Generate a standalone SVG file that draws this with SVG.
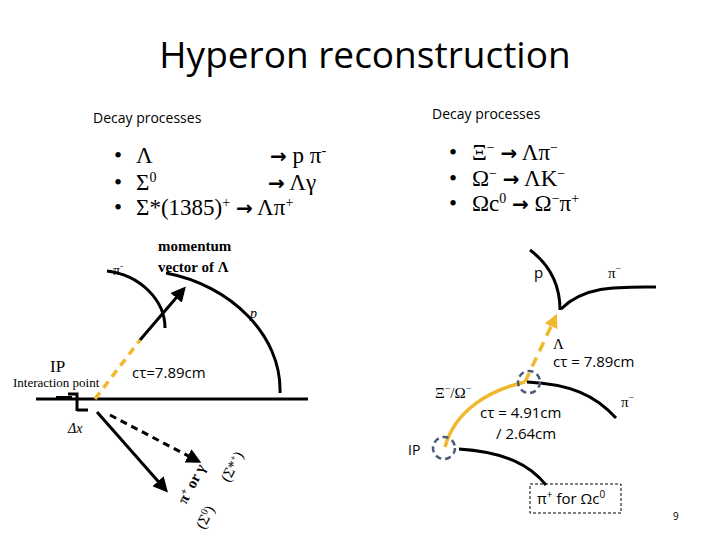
<svg xmlns="http://www.w3.org/2000/svg" width="720" height="540" viewBox="0 0 720 540">
<style>
.s{font-family:"Liberation Serif",serif;fill:#000}
.c{font-family:"Open Sans","Liberation Sans",sans-serif;fill:#000}
.t{fill:none;stroke:#000;stroke-width:3}
.y{fill:none;stroke:#f0b92d;stroke-width:3.5}
.o{fill:none;stroke:#4a5a78;stroke-width:2.5;stroke-dasharray:6 4}
.ar{font-family:"DejaVu Sans",sans-serif;font-weight:bold}
</style>
<defs>
<marker id="a" markerWidth="5" markerHeight="5" refX="3" refY="2.5" orient="auto"><path d="M0,0L5,2.5L0,5z" fill="#000"/></marker>
<marker id="ya" markerWidth="4" markerHeight="4" refX="2" refY="2" orient="auto"><path d="M0,0L4,2L0,4z" fill="#f0b92d"/></marker>
</defs>
<rect width="720" height="540" fill="#fff"/>
<text x="365" y="68" text-anchor="middle" class="c" font-size="37">Hyperon reconstruction</text>
<g id="left-list">
<text x="93" y="123" class="c" font-size="14">Decay processes</text>
<text x="114" y="163" class="s" font-size="23">•</text>
<text x="114" y="190" class="s" font-size="23">•</text>
<text x="114" y="215" class="s" font-size="23">•</text>
<text x="136" y="163" class="s" font-size="23">Λ</text>
<text x="270" y="163" class="s" font-size="23"><tspan class="ar" font-size="20">→</tspan> p π<tspan dy="-8" font-size="14">-</tspan></text>
<text x="136" y="190" class="s" font-size="23">Σ<tspan dy="-8" font-size="14">0</tspan></text>
<text x="268" y="190" class="s" font-size="23"><tspan class="ar" font-size="20">→</tspan> Λγ</text>
<text x="136" y="215" class="s" font-size="23">Σ*(1385)<tspan dy="-8" font-size="14">+</tspan><tspan dy="8"> </tspan><tspan class="ar" font-size="20">→</tspan> Λπ<tspan dy="-8" font-size="14">+</tspan></text>
</g>
<g id="right-list">
<text x="432" y="119" class="c" font-size="14">Decay processes</text>
<text x="449" y="160" class="s" font-size="23">•</text>
<text x="449" y="186" class="s" font-size="23">•</text>
<text x="449" y="211" class="s" font-size="23">•</text>
<text x="472" y="160" class="s" font-size="23">Ξ<tspan dy="-8" font-size="14">−</tspan><tspan dy="8">   </tspan><tspan class="ar" font-size="20">→</tspan> Λπ<tspan dy="-8" font-size="14">−</tspan></text>
<text x="472" y="186" class="s" font-size="23">Ω<tspan dy="-8" font-size="14">−</tspan><tspan dy="8">  </tspan><tspan class="ar" font-size="20">→</tspan> ΛK<tspan dy="-8" font-size="14">−</tspan></text>
<text x="472" y="211" class="s" font-size="23">Ωc<tspan dy="-8" font-size="14">0</tspan><tspan dy="8"> </tspan><tspan class="ar" font-size="20">→</tspan> Ω<tspan dy="-8" font-size="14">−</tspan><tspan dy="8">π</tspan><tspan dy="-8" font-size="14">+</tspan></text>
</g>
<g id="connectors">
<line x1="36" y1="399" x2="308" y2="399" class="t"/>
<line x1="56" y1="398" x2="72" y2="398" stroke="#000" stroke-width="4"/>
<path d="M68,394H77V411M77,410H88" class="t" stroke-width="2.5"/>
<path d="M166,273 C230,285 282,335 280,393" class="t"/>
<path d="M107,271 C140,275 165,300 165,328" class="t"/>
<line x1="95" y1="399" x2="140" y2="340" class="y" stroke-dasharray="8 6"/>
<line x1="140" y1="340" x2="182" y2="291" class="t" marker-end="url(#a)"/>
<line x1="97" y1="412" x2="164" y2="488" class="t" stroke-width="3.5" marker-end="url(#a)"/>
<line x1="110" y1="415" x2="196" y2="460" class="t" stroke-width="2" stroke-dasharray="7 5" marker-end="url(#a)"/>
<path d="M530,250 C550,265 560,285 560,310" class="t"/>
<path d="M561,309 C585,285 620,287 656,287" class="t"/>
<line x1="525" y1="382" x2="554" y2="320" class="y" stroke-dasharray="10 7" marker-end="url(#ya)"/>
<path d="M445,447 C455,410 490,390 525,382" class="y"/>
<path d="M527,382 C570,384 595,395 616,418" class="t"/>
<path d="M459,449 C505,452 530,465 546,485" class="t"/>
</g>
<g id="vertices">
<circle cx="529" cy="382" r="11" class="o"/>
<circle cx="444" cy="448" r="11" class="o"/>
</g>
<g id="labels">
<text x="113" y="275" class="s" font-size="14">π<tspan dy="-6" font-size="9">-</tspan></text>
<text x="158" y="251" class="s" font-size="15" font-weight="bold">momentum</text>
<text x="158" y="272" class="s" font-size="15" font-weight="bold">vector of Λ</text>
<text x="250" y="318" class="s" font-size="14" font-style="italic">p</text>
<text x="50" y="372" class="s" font-size="17">IP</text>
<text x="13" y="387" class="s" font-size="13">Interaction point</text>
<text x="132" y="378" class="c" font-size="15">cτ=7.89cm</text>
<text x="68" y="433" class="s" font-size="14" font-style="italic">Δx</text>
<text transform="translate(186,505) rotate(-62)" class="s" font-size="15" font-weight="bold">π<tspan dy="-5" font-size="10">+</tspan><tspan dy="5">  or  γ</tspan></text>
<text transform="translate(204,530) rotate(-62)" class="s" font-size="15">(Σ<tspan dy="-5" font-size="10">0</tspan><tspan dy="5">)</tspan></text>
<text transform="translate(229,483) rotate(-62)" class="s" font-size="15">(Σ*<tspan dy="-5" font-size="10">+</tspan><tspan dy="5">)</tspan></text>
<text x="534" y="278" class="c" font-size="15">p</text>
<text x="608" y="278" class="s" font-size="15">π<tspan dy="-6" font-size="10">−</tspan></text>
<text x="553" y="349" class="s" font-size="15">Λ</text>
<text x="553" y="367" class="c" font-size="15">cτ = 7.89cm</text>
<text x="435" y="398" class="s" font-size="15">Ξ<tspan dy="-6" font-size="10">−</tspan><tspan dy="6">/Ω</tspan><tspan dy="-6" font-size="10">−</tspan></text>
<text x="621" y="407" class="s" font-size="15">π<tspan dy="-6" font-size="10">−</tspan></text>
<text x="480" y="418" class="c" font-size="15">cτ = 4.91cm</text>
<text x="496" y="439" class="c" font-size="15">/ 2.64cm</text>
<text x="408" y="455" class="c" font-size="14" fill="#1f2d4d">IP</text>
</g>
<g id="note">
<rect x="530" y="484" width="91" height="29" fill="none" stroke="#000" stroke-dasharray="3 2"/>
<text x="537" y="504" class="c" font-size="15">π<tspan dy="-6" font-size="10">+</tspan><tspan dy="6"> for Ωc</tspan><tspan dy="-6" font-size="10">0</tspan></text>
</g>
<text x="673" y="520" class="c" font-size="10" fill="#777">9</text>
</svg>
